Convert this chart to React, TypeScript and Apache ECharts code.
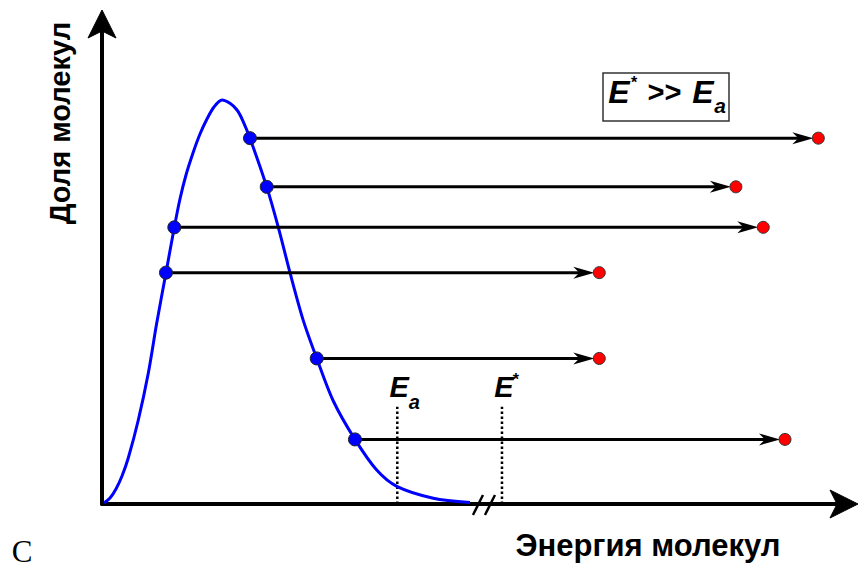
import React, { useEffect, useRef } from 'react';
import * as echarts from 'echarts';

// Maxwell-type distribution curve (energy, fraction)
const curveX = [0.27, 1.08, 1.88, 2.69, 3.53, 4.88, 6.22, 7.35, 8.6, 9.72, 10.48, 11.29, 12.23, 13.17, 14.11, 15.05, 16.13, 17.2, 18.15, 18.95, 19.89, 22.14, 23.7, 25.27, 27.06, 28.86, 31.09, 34.0, 36.92, 39.69, 44.53, 49.46];
const curveY = [0.21, 1.24, 3.11, 5.81, 9.54, 17.43, 27.12, 37.49, 47.99, 57.41, 63.28, 68.26, 72.82, 76.76, 79.88, 82.37, 83.82, 83.13, 81.74, 79.46, 75.87, 65.8, 57.4, 47.99, 38.05, 30.23, 21.37, 13.4, 7.05, 3.6, 1.2, 0.3];

// molecules on the curve (blue) and their energies after excitation (red)
const blueX = [19.89, 22.14, 9.72, 8.6, 28.86, 34.0];
const levelY = [75.9, 65.8, 57.4, 48.0, 30.2, 13.4];
const redX = [96.28, 85.2, 88.88, 66.84, 66.84, 91.8];

// dotted drop lines: Ea and E*
const dropX = [39.69, 53.76];
const dropTop = [20.2, 20.2];
const dropMain = ['E', 'E'];
const dropSub = ['a', ''];
const dropSup = ['', '*'];

// axis break position
const breakX = [51.34];

const yTitle = 'Доля молекул';
const xTitle = 'Энергия молекул';
const cornerLabel = 'C';

const FONT = '"Liberation Sans", Arial, sans-serif';

export default function App() {
  const ref = useRef<HTMLDivElement>(null);

  useEffect(() => {
    const chart = echarts.init(ref.current as HTMLDivElement, null, { renderer: 'svg' });

    const axisCommon = {
      type: 'value',
      min: 0,
      max: 100,
      axisTick: { show: false },
      axisLabel: { show: false },
      splitLine: { show: false },
      axisLine: {
        show: true,
        onZero: true,
        lineStyle: { color: '#000', width: 4 },
      },
    };

    const option: any = {
      animation: false,
      backgroundColor: '#ffffff',
      grid: { left: 102, right: 13, top: 22, bottom: 65 },
      xAxis: { ...axisCommon },
      yAxis: { ...axisCommon },
      series: [
        {
          type: 'custom',
          name: 'axisArrows',
          z: 6,
          clip: false,
          data: [[100, 0, 0], [0, 100, 1]],
          encode: { x: 0, y: 1 },
          renderItem: (params: any, api: any) => {
            const p = api.coord([api.value(0), api.value(1)]);
            const dir = api.value(2);
            const pts =
              dir === 0
                ? [[p[0] + 12, p[1]], [p[0] - 16, p[1] - 14], [p[0] - 9, p[1]], [p[0] - 16, p[1] + 14]]
                : [[p[0], p[1] - 12], [p[0] - 14, p[1] + 16], [p[0], p[1] + 9], [p[0] + 14, p[1] + 16]];
            return { type: 'polygon', shape: { points: pts }, style: { fill: '#000', stroke: '#000', lineWidth: 1 } };
          },
        },
        {
          type: 'custom',
          name: 'drop',
          z: 1,
          data: dropX.map((x, i) => [x, dropTop[i]]),
          encode: { x: 0, y: 1 },
          renderItem: (params: any, api: any) => {
            const i = params.dataIndex;
            const b = api.coord([api.value(0), 0]);
            const t = api.coord([api.value(0), api.value(1)]);
            const children: any[] = [
              {
                type: 'line',
                shape: { x1: b[0], y1: b[1], x2: t[0], y2: t[1] },
                style: { stroke: '#000', lineWidth: 2.5, lineDash: [2.5, 2.5] },
              },
              {
                type: 'text',
                x: t[0] + 2,
                y: t[1] - 20,
                style: {
                  text: dropMain[i],
                  fontSize: 29,
                  fontWeight: 'bold',
                  fontStyle: 'italic',
                  fontFamily: FONT,
                  fill: '#000',
                  align: 'center',
                  verticalAlign: 'middle',
                },
              },
            ];
            if (dropSub[i]) {
              children.push({
                type: 'text',
                x: t[0] + 17,
                y: t[1] - 5,
                style: {
                  text: dropSub[i],
                  fontSize: 20,
                  fontWeight: 'bold',
                  fontStyle: 'italic',
                  fontFamily: FONT,
                  fill: '#000',
                  align: 'center',
                  verticalAlign: 'middle',
                },
              });
            }
            if (dropSup[i]) {
              children.push({
                type: 'text',
                x: t[0] + 14,
                y: t[1] - 27,
                style: {
                  text: dropSup[i],
                  fontSize: 16,
                  fontWeight: 'bold',
                  fontFamily: FONT,
                  fill: '#000',
                  align: 'center',
                  verticalAlign: 'middle',
                },
              });
            }
            return { type: 'group', children };
          },
        },
        {
          type: 'line',
          name: 'curve',
          z: 2,
          data: curveX.map((x, i) => [x, curveY[i]]),
          smooth: 0.3,
          showSymbol: false,
          symbol: 'none',
          lineStyle: { color: '#0000ff', width: 3 },
        },
        {
          type: 'custom',
          name: 'arrows',
          z: 3,
          data: blueX.map((x, i) => [x, redX[i], levelY[i]]),
          encode: { x: [0, 1], y: 2 },
          renderItem: (params: any, api: any) => {
            const s = api.coord([api.value(0), api.value(2)]);
            const e = api.coord([api.value(1), api.value(2)]);
            const y = s[1];
            const tip = e[0] - 5;
            return {
              type: 'group',
              children: [
                {
                  type: 'line',
                  shape: { x1: s[0], y1: y, x2: tip - 12, y2: y },
                  style: { stroke: '#000', lineWidth: 3 },
                },
                {
                  type: 'polygon',
                  shape: { points: [[tip, y], [tip - 21, y - 6], [tip - 15, y], [tip - 21, y + 6]] },
                  style: { fill: '#000' },
                },
              ],
            };
          },
        },
        {
          type: 'scatter',
          name: 'blue',
          z: 5,
          data: blueX.map((x, i) => [x, levelY[i]]),
          symbolSize: 13,
          itemStyle: { color: '#0000ff', borderColor: '#222', borderWidth: 1, opacity: 1 },
        },
        {
          type: 'scatter',
          name: 'red',
          z: 5,
          data: redX.map((x, i) => [x, levelY[i]]),
          symbolSize: 12,
          itemStyle: { color: '#ff0000', borderColor: '#333', borderWidth: 1, opacity: 1 },
        },
        {
          type: 'custom',
          name: 'break',
          z: 6,
          data: breakX.map((x) => [x, 0]),
          encode: { x: 0, y: 1 },
          renderItem: (params: any, api: any) => {
            const p = api.coord([api.value(0), 0]);
            return {
              type: 'group',
              children: [
                { type: 'line', shape: { x1: p[0] - 11, y1: p[1] + 11, x2: p[0] - 1, y2: p[1] - 9 }, style: { stroke: '#000', lineWidth: 2.5 } },
                { type: 'line', shape: { x1: p[0] + 1, y1: p[1] + 11, x2: p[0] + 11, y2: p[1] - 9 }, style: { stroke: '#000', lineWidth: 2.5 } },
              ],
            };
          },
        },
      ],
      graphic: [
        {
          type: 'text',
          x: 60,
          y: 123,
          rotation: Math.PI / 2,
          style: { text: yTitle, font: `bold 29px ${FONT}`, fill: '#000', textAlign: 'center', textVerticalAlign: 'middle' },
        },
        {
          type: 'text',
          x: 648,
          y: 545,
          style: { text: xTitle, font: `bold 31px ${FONT}`, fill: '#000', textAlign: 'center', textVerticalAlign: 'middle' },
        },
        {
          type: 'text',
          x: 22,
          y: 551,
          style: { text: cornerLabel, font: '31px "Liberation Serif", "Times New Roman", serif', fill: '#000', textAlign: 'center', textVerticalAlign: 'middle' },
        },
        {
          type: 'group',
          children: [
            { type: 'rect', shape: { x: 603, y: 73, width: 126, height: 48 }, style: { fill: '#fff', stroke: '#333', lineWidth: 1.5 } },
            { type: 'text', x: 619, y: 92, style: { text: 'E', font: `italic bold 32px ${FONT}`, fill: '#000', textAlign: 'center', textVerticalAlign: 'middle' } },
            { type: 'text', x: 634, y: 82, style: { text: '*', font: `bold 16px ${FONT}`, fill: '#000', textAlign: 'center', textVerticalAlign: 'middle' } },
            { type: 'text', x: 664, y: 92, style: { text: '>>', font: `italic bold 29px ${FONT}`, fill: '#000', textAlign: 'center', textVerticalAlign: 'middle' } },
            { type: 'text', x: 703, y: 92, style: { text: 'E', font: `italic bold 32px ${FONT}`, fill: '#000', textAlign: 'center', textVerticalAlign: 'middle' } },
            { type: 'text', x: 720, y: 105, style: { text: 'a', font: `italic bold 21px ${FONT}`, fill: '#000', textAlign: 'center', textVerticalAlign: 'middle' } },
          ],
        },
      ],
    };

    chart.setOption(option);
    return () => {
      chart.dispose();
    };
  }, []);

  return (
    <div
      ref={ref}
      style={{ position: 'fixed', left: 0, top: 0, width: 859, height: 569, background: '#fff' }}
    />
  );
}
